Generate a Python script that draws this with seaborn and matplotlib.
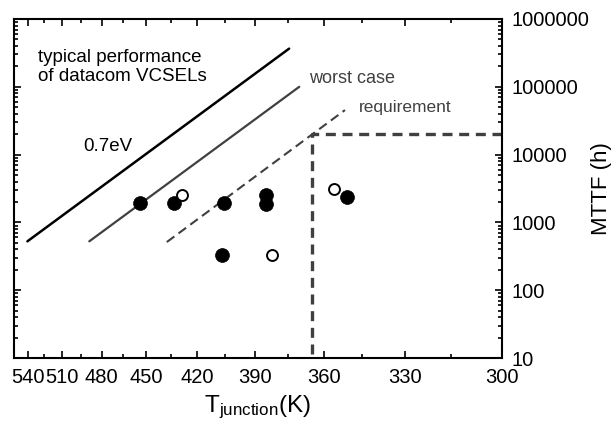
import numpy as np
import matplotlib
matplotlib.use("Agg")
import matplotlib.pyplot as plt
import matplotlib.ticker as mticker
import seaborn as sns

# ── data (T in K, MTTF in h) ──
filled_T = [453.8, 432.9, 405.3, 406.4, 385.0, 385.0, 350.9]
filled_mttf = [1920, 1920, 1920, 335, 2500, 1880, 2350]
open_T = [428.1, 382.1, 355.9]
open_mttf = [2550, 335, 3130]

typical_T = [540.1, 374.6]          # 0.7 eV, typical datacom VCSEL
typical_mttf = [526, 365600]
worst_T = [489.0, 370.2]            # worst case
worst_mttf = [526, 100000]
req_T = [437.2, 351.6]              # requirement
req_mttf = [513, 45400]

box_T = [300, 365, 365]             # requirement box corner
box_mttf = [20000, 20000, 10]

major_T = [540, 510, 480, 450, 420, 390, 360, 330, 300]
minor_T = [525, 495, 465, 435, 405, 375, 345, 315]

DARK = "#404040"

sns.set_style("ticks")
plt.rcParams["font.family"] = ["Liberation Sans", "DejaVu Sans"]
plt.rcParams["mathtext.fontset"] = "custom"
plt.rcParams["mathtext.rm"] = "Liberation Sans"
plt.rcParams["mathtext.it"] = "Liberation Sans"
plt.rcParams["text.color"] = "black"
plt.rcParams["axes.labelcolor"] = "black"

fig = plt.figure(figsize=(6.16, 4.30), dpi=100)
ax = fig.add_axes([14 / 616, 1 - 358 / 430, 487.5 / 616, 339 / 430])


def inv_t(t):
    # Arrhenius axis: -1000/T, increasing with T
    t = np.asarray(t, dtype=float)
    with np.errstate(divide="ignore", invalid="ignore"):
        return -1000.0 / t


ax.set_xscale("function", functions=(inv_t, inv_t))
ax.set_yscale("log")

# ── lines ──
line_kw = dict(ax=ax, sort=False, estimator=None)
sns.lineplot(x=typical_T, y=typical_mttf, color="black", lw=1.8, **line_kw)
sns.lineplot(x=worst_T, y=worst_mttf, color=DARK, lw=1.6, **line_kw)
sns.lineplot(x=req_T, y=req_mttf, color=DARK, lw=1.5,
             linestyle=(0, (4.5, 2.5)), **line_kw)
sns.lineplot(x=box_T, y=box_mttf, color=DARK, lw=2.4,
             linestyle=(0, (3, 2)), **line_kw)

# ── points ──
sns.scatterplot(x=filled_T, y=filled_mttf, ax=ax, color="black", s=100,
                edgecolor="black", linewidth=0.5, zorder=5)
sns.scatterplot(x=open_T, y=open_mttf, ax=ax, color="white", s=62,
                edgecolor="black", linewidth=1.4, zorder=5)

ax.set_xlim(552.6, 300)
ax.set_ylim(10, 1e6)

# ── ticks ──
ax.xaxis.set_major_locator(mticker.FixedLocator(major_T))
ax.xaxis.set_minor_locator(mticker.FixedLocator(minor_T))
ax.xaxis.set_major_formatter(mticker.FixedFormatter([str(t) for t in major_T]))
ax.xaxis.set_minor_formatter(mticker.NullFormatter())
ax.yaxis.set_major_locator(mticker.LogLocator(base=10, numticks=10))
ax.yaxis.set_minor_locator(mticker.LogLocator(base=10, subs=np.arange(2, 10), numticks=20))
ax.yaxis.set_major_formatter(mticker.FuncFormatter(lambda v, p: f"{int(round(v))}"))
ax.yaxis.set_minor_formatter(mticker.NullFormatter())

ax.tick_params(which="both", direction="in", top=True, bottom=True,
               left=True, right=True, labelleft=False, labelright=True,
               width=1.2, colors="black")
ax.tick_params(which="major", length=5, labelsize=14.5)
ax.tick_params(axis="x", which="major", pad=7)
ax.tick_params(axis="y", which="major", pad=7)
ax.tick_params(which="minor", length=3)
for s in ax.spines.values():
    s.set_linewidth(1.5)
    s.set_color("black")

ax.set_xlabel(r"T$_{\mathrm{junction}}$(K)", fontsize=17.5, labelpad=5)
ax.yaxis.set_label_position("right")
ax.set_ylabel("MTTF (h)", fontsize=16, labelpad=1.5)

# ── annotations ──
ax.text(0.050, 0.858, "typical performance\nof datacom VCSELs", transform=ax.transAxes,
        ha="left", va="center", fontsize=13.5, linespacing=1.15)
ax.text(0.193, 0.623, "0.7eV", transform=ax.transAxes, ha="center", va="center",
        fontsize=13.5)
ax.text(0.606, 0.825, "worst case", transform=ax.transAxes, ha="left", va="center",
        fontsize=13, color=DARK)
ax.text(0.708, 0.740, "requirement", transform=ax.transAxes, ha="left", va="center",
        fontsize=12.5, color=DARK)

fig.savefig("out.png", dpi=100)
plt.close(fig)
